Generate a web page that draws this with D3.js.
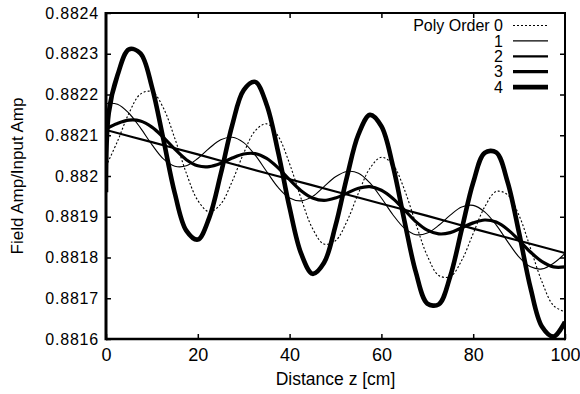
<!DOCTYPE html>
<html>
<head>
<meta charset="utf-8">
<script src="https://cdn.jsdelivr.net/npm/d3@7"></script>
<style>
    body { margin: 0; background: #fff; }
    svg { display: block; font-family: "Liberation Sans", Arial, Helvetica, sans-serif; }
</style>
</head>
<body>
<div id="chart"></div>
<script>
var distance = [0, 2.5, 5, 7.5, 10, 12.5, 15, 17.5, 20, 22.5, 25, 27.5, 30, 32.5, 35, 37.5, 40,
    42.5, 45, 47.5, 50, 52.5, 55, 57.5, 60, 62.5, 65, 67.5, 70, 72.5, 75, 77.5, 80,
    82.5, 85, 87.5, 90, 92.5, 95, 97.5, 100];
var distanceCoarse = [0, 10, 20, 30, 40, 50, 60, 70, 80, 90, 100];
var distanceOrder4 = [0, 0.6, 2.5, 5, 7.5, 10, 12.5, 15, 17.5, 20, 22.5, 25, 27.5, 30, 32.5, 35, 37.5, 40,
    42.5, 45, 47.5, 50, 52.5, 55, 57.5, 60, 62.5, 65, 67.5, 70, 72.5, 75, 77.5, 80,
    82.5, 85, 87.5, 90, 92.5, 95, 97.5, 100];

// field amp / input amp, one array per polynomial order
var order0 = [0.882024, 0.882085, 0.882154, 0.882201, 0.882207, 0.882167, 0.882092, 0.882007, 0.88194,
    0.881912, 0.881931, 0.881987, 0.882056, 0.882111, 0.882128, 0.882098, 0.88203, 0.881945, 0.881871,
    0.881833, 0.881841, 0.881889, 0.881958, 0.882019, 0.882046, 0.882028, 0.881967, 0.881883, 0.881804,
    0.881756, 0.881753, 0.881793, 0.881859, 0.881924, 0.881962, 0.881954, 0.881903, 0.881822, 0.88174,
    0.881682, 0.881667];
var order1 = [0.882178, 0.882176, 0.882154, 0.882118, 0.882077, 0.882042, 0.882024, 0.882025, 0.882043,
    0.882068, 0.882089, 0.882095, 0.882082, 0.882051, 0.882011, 0.881972, 0.881946, 0.881939, 0.88195,
    0.881974, 0.881998, 0.882011, 0.882007, 0.881983, 0.881946, 0.881905, 0.881872, 0.881856, 0.88186,
    0.881879, 0.881904, 0.881924, 0.881928, 0.881912, 0.88188, 0.881839, 0.881801, 0.881777, 0.881772,
    0.881786, 0.88181];
var order2 = [0.882113, 0.882083, 0.882053, 0.882022, 0.881992, 0.881962, 0.881932, 0.881902, 0.881871,
    0.881841, 0.881811];
var order3 = [0.882116, 0.882129, 0.882137, 0.882135, 0.88212, 0.882095, 0.882066, 0.88204, 0.882025,
    0.882023, 0.882031, 0.882044, 0.882054, 0.882055, 0.882043, 0.88202, 0.881991, 0.881964, 0.881946,
    0.88194, 0.881946, 0.881958, 0.88197, 0.881974, 0.881965, 0.881945, 0.881917, 0.881888, 0.881867,
    0.881858, 0.881861, 0.881873, 0.881885, 0.881892, 0.881887, 0.881869, 0.881842, 0.881813, 0.88179,
    0.881777, 0.881777];
var order4 = [0.88196, 0.882155, 0.882247, 0.882311, 0.882301, 0.882219, 0.88209, 0.881957, 0.881866,
    0.881844, 0.881898, 0.882005, 0.882125, 0.882211, 0.882231, 0.882175, 0.882059, 0.881922, 0.88181,
    0.88176, 0.881787, 0.881878, 0.881998, 0.882102, 0.88215, 0.882122, 0.882025, 0.881891, 0.881764,
    0.881687, 0.881685, 0.881754, 0.881869, 0.881984, 0.882057, 0.882058, 0.881985, 0.88186, 0.881725,
    0.88163, 0.881606, 0.881642];

var legendLabels = ["Poly Order 0", "1", "2", "3", "4"];
var xTicks = [0, 20, 40, 60, 80, 100];
var yTicks = [0.8816, 0.8817, 0.8818, 0.8819, 0.882, 0.8821, 0.8822, 0.8823, 0.8824];

var width = 580, height = 394;
var margin = {left: 106, right: 15, top: 13, bottom: 55};

var series = [
    {z: distance, v: order0, width: 1.1, dash: "2,2"},
    {z: distance, v: order1, width: 1.1, dash: null},
    {z: distanceCoarse, v: order2, width: 2.2, dash: null},
    {z: distance, v: order3, width: 3.2, dash: null},
    {z: distanceOrder4, v: order4, width: 4.6, dash: null}
];

var svg = d3.select("#chart").append("svg")
    .attr("width", width)
    .attr("height", height);

var x = d3.scaleLinear().domain([0, 100]).range([margin.left, width - margin.right]);
var y = d3.scaleLinear().domain([0.8816, 0.8824]).range([height - margin.bottom, margin.top]);
var plotBottom = y(0.8816), plotRight = x(100), plotTop = y(0.8824);

svg.append("defs").append("clipPath").attr("id", "plot-clip")
    .append("rect")
    .attr("x", x(0)).attr("y", plotTop - 3)
    .attr("width", plotRight - x(0)).attr("height", plotBottom - plotTop + 3);

var fmt = d3.format("~g");

// axes with ticks pointing into the plot
var leftAxis = svg.append("g")
    .attr("transform", "translate(" + x(0) + ",0)")
    .call(d3.axisLeft(y).tickValues(yTicks).tickSize(-5).tickPadding(7).tickFormat(fmt));
leftAxis.selectAll("text").attr("font-size", 16).attr("letter-spacing", 0.8);

var rightAxis = svg.append("g")
    .attr("transform", "translate(" + plotRight + ",0)")
    .call(d3.axisRight(y).tickValues(yTicks.slice(1, -1)).tickSize(-5).tickFormat(""));

var bottomAxis = svg.append("g")
    .attr("transform", "translate(0," + plotBottom + ")")
    .call(d3.axisBottom(x).tickValues(xTicks).tickSize(-5).tickPadding(9).tickFormat(fmt));
bottomAxis.selectAll("text").attr("font-size", 18);

var topAxis = svg.append("g")
    .attr("transform", "translate(0," + plotTop + ")")
    .call(d3.axisTop(x).tickValues(xTicks.slice(1, -1)).tickSize(-5).tickFormat(""));

svg.selectAll(".domain").remove();
svg.selectAll(".tick line").attr("stroke", "#000").attr("stroke-width", 1.5);
svg.selectAll(".tick text").attr("fill", "#000").attr("font-family", "'Liberation Sans', Arial, sans-serif");

// frame
var frame = svg.append("g").attr("stroke", "#000").attr("fill", "none");
frame.append("line").attr("x1", x(0)).attr("x2", plotRight).attr("y1", plotTop).attr("y2", plotTop).attr("stroke-width", 2);
frame.append("line").attr("x1", x(0)).attr("x2", plotRight).attr("y1", plotBottom).attr("y2", plotBottom).attr("stroke-width", 2.5);
frame.append("line").attr("x1", x(0)).attr("x2", x(0)).attr("y1", plotTop - 1).attr("y2", plotBottom + 1.2).attr("stroke-width", 3);
frame.append("line").attr("x1", plotRight).attr("x2", plotRight).attr("y1", plotTop - 1).attr("y2", plotBottom + 1.2).attr("stroke-width", 2);

// curves
var line = d3.line()
    .x(function (d) { return x(d[0]); })
    .y(function (d) { return y(d[1]); })
    .curve(d3.curveCatmullRom.alpha(0.5));

svg.append("g").attr("clip-path", "url(#plot-clip)")
    .selectAll("path")
    .data(series)
    .enter().append("path")
    .attr("d", function (s) { return line(s.z.map(function (z, i) { return [z, s.v[i]]; })); })
    .attr("fill", "none")
    .attr("stroke", "#000")
    .attr("stroke-width", function (s) { return s.width; })
    .attr("stroke-dasharray", function (s) { return s.dash; })
    .attr("stroke-linejoin", "round");

// legend
var legend = svg.append("g").attr("class", "legend");
var rows = legend.selectAll("g").data(series).enter().append("g")
    .attr("transform", function (d, i) { return "translate(0," + (25.5 + i * 15.4) + ")"; });
rows.append("text")
    .attr("x", 503)
    .attr("dy", "0.36em")
    .attr("text-anchor", "end")
    .attr("font-size", 16)
    .text(function (d, i) { return legendLabels[i]; });
rows.append("line")
    .attr("x1", 513).attr("x2", 548)
    .attr("stroke", "#000")
    .attr("stroke-width", function (d) { return d.width; })
    .attr("stroke-dasharray", function (d) { return d.dash; });

// axis titles
svg.append("text")
    .attr("x", (x(0) + plotRight) / 2)
    .attr("y", 385)
    .attr("text-anchor", "middle")
    .attr("font-size", 17.5)
    .text("Distance z [cm]");

svg.append("text")
    .attr("transform", "translate(23," + (plotTop + plotBottom) / 2 + ") rotate(-90)")
    .attr("text-anchor", "middle")
    .attr("font-size", 17)
    .text("Field Amp/Input Amp");
</script>
</body>
</html>
